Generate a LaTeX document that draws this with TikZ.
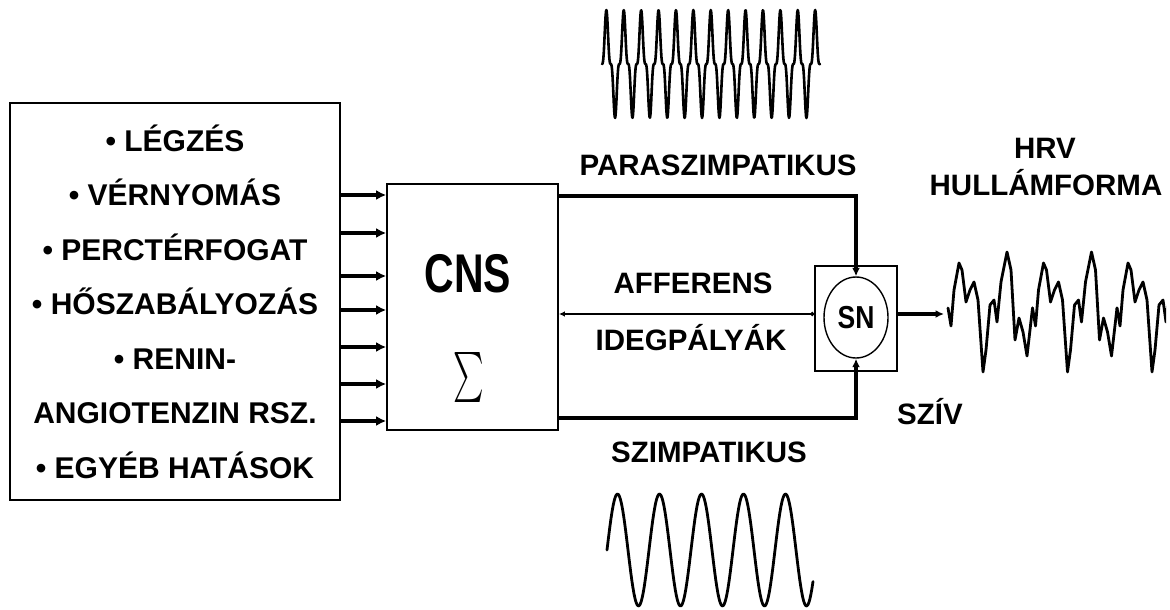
\documentclass[tikz,border=0pt]{standalone}
\usepackage{fontspec}
\setmainfont{Liberation Sans}
\usetikzlibrary{arrows.meta,shapes.geometric}

\begin{document}
\begin{tikzpicture}[x=1pt, y=-1pt,
            doboz/.style={draw=black, line width=1.5pt, inner sep=0pt},
            felirat/.style={font=\fontsize{29.5}{30}\selectfont\bfseries},
            bemenet/.style={line width=3.4pt, -{Latex[length=10pt,width=10pt]}},
            palya/.style={line width=3.2pt, -{Latex[length=8.5pt,width=8pt]}},
            afferens/.style={line width=1.4pt, {Circle[length=4pt]}-{Latex[length=6pt,width=5.5pt]}},
            hullam/.style={line width=2.8pt, line join=round, line cap=round}
        ]
        \useasboundingbox (0,0) rectangle (1170,610);

        % --- TENYEZOK ---
        \node[doboz, minimum width=330pt, minimum height=397pt, align=center,
              font=\fontsize{30}{54.5}\selectfont\bfseries] (tenyezok) at (175,301.5)
            {• LÉGZÉS\\ • VÉRNYOMÁS\\ • PERCTÉRFOGAT\\ • HŐSZABÁLYOZÁS\\ • RENIN-\\ ANGIOTENZIN RSZ.\\ • EGYÉB HATÁSOK};

        % --- CNS ---
        \node[doboz, line width=1.7pt, minimum width=171pt, minimum height=246pt] (cns) at (472.5,307) {};
        \node[font=\fontsize{41}{41}\selectfont\bfseries, inner sep=0pt] (cnsfelirat) at (468,274)
            {\scalebox{1}[1.33]{CNS}};
        \node[inner sep=0pt] (szumma) at (468.5,377.5) {\scalebox{2.9}[5]{$\sum$}};

        \foreach \y [count=\i] in {195,233,276,310,347,384,421} {
            \coordinate (be\i) at (tenyezok.east |- 0,\y);
            \draw[bemenet] (be\i) -- (be\i -| cns.west);
        }

        % --- SZIV ---
        \node[doboz, minimum width=82pt, minimum height=105pt] (snkeret) at (856,318.5) {};
        \node[ellipse, draw=black, line width=1.4pt, inner sep=0pt, minimum width=64pt, minimum height=81pt,
              font=\fontsize{26.5}{26.5}\selectfont\bfseries] (sn) at (856,317.5) {\scalebox{1}[1.2]{SN}};

        \draw[palya] (cns.east |- 0,196) -| (sn.north);
        \draw[palya] (cns.east |- 0,418) -| (sn.south);
        \draw[afferens] (snkeret.west |- 0,314) -- (cns.east |- 0,314);
        \coordinate (hrvbe) at (944,314);
        \draw[palya] (snkeret.east |- 0,314) -- (hrvbe);

        % --- FELIRATOK ---
        \node[felirat] (para) at (718,165) {PARASZIMPATIKUS};
        \node[felirat] (aff) at (693,283) {AFFERENS};
        \node[felirat] (ideg) at (691,338) {IDEGPÁLYÁK};
        \node[felirat] (szimp) at (709,452) {SZIMPATIKUS};
        \node[felirat] (hrv) at (1045,148) {HRV};
        \node[felirat] (hullamforma) at (1046,183) {HULLÁMFORMA};
        \node[felirat] (sziv) at (930,412) {SZÍV};

        % --- HULLAMOK ---
        \draw[hullam, line width=2.6pt] plot[domain=602:820, samples=500]
            (\x, {64 - 54*sin((\x-602)/17.4*360)*sin((\x-602)/17.4*360)*sin((\x-602)/17.4*360)});
        \draw[hullam] plot[domain=607:813, samples=200]
            (\x, {550 - 56*sin((\x-607)/42*360)});

        \begin{scope}
            \clip (945,240) rectangle (1166,385);
            \foreach \s in {0,84.5,169}
                \draw[hullam, xshift=\s pt] (948,308) -- (951,326) -- (954,290) -- (959,263) -- (962,270)
                    -- (966,302) -- (970,290) -- (974,282) -- (978,300) -- (983,372) -- (986,350)
                    -- (990,305) -- (994,300) -- (997,322) -- (1001,282) -- (1007,252) -- (1011,270)
                    -- (1015,340) -- (1019,318) -- (1023,332) -- (1027,356) -- (1032.5,308);
        \end{scope}
    \end{tikzpicture}
\end{document}
